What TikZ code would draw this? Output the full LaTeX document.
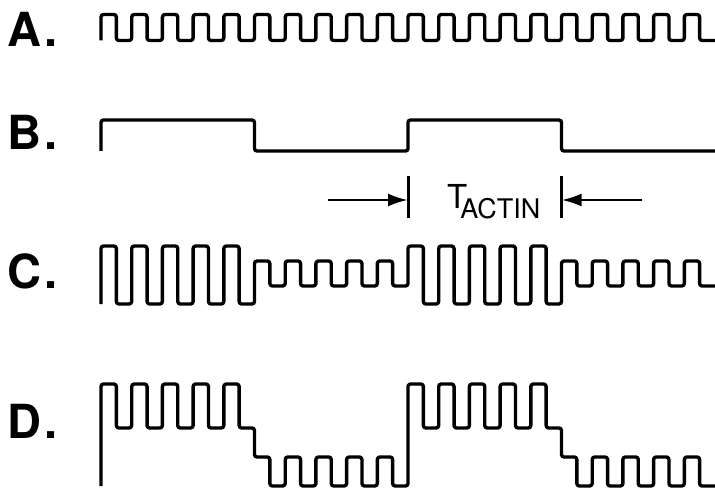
\documentclass[tikz,border=0pt]{standalone}
\usepackage{fontspec}
\setsansfont{TeX Gyre Heros}
\usepackage{tikz}
\usetikzlibrary{arrows.meta}
\newcommand{\wper}{30.7}
\tikzset{
  wave/.style={line width=3.4pt,line join=round,rounded corners=2.5pt,draw=black},
  rowlabel/.style={anchor=west,inner sep=0pt,font=\fontsize{47}{47}\selectfont\sffamily\bfseries},
  markbar/.style={line width=3pt},
  dimarrow/.style={-{Latex[length=20pt,width=13pt]},line width=2.8pt},
}

\begin{document}
\begin{tikzpicture}[x=1pt,y=-1pt]
  \useasboundingbox (0,0) rectangle (715,492);
  % row labels
  \node[rowlabel] (labA) at (7,29)    {A\kern3pt.};
  \node[rowlabel] (labB) at (7,132.5) {B\kern3pt.};
  \node[rowlabel] (labC) at (7,271.5) {C\kern3pt.};
  \node[rowlabel] (labD) at (7,421.5) {D\kern3pt.};
  % A: carrier
  \draw[wave] (101,40.5) foreach \k in {0,...,19} {
    -- ({101+\k*\wper},14.5) -- ({101+(\k+0.5)*\wper},14.5)
    -- ({101+(\k+0.5)*\wper},40.5) -- ({101+(\k+1)*\wper},40.5)};
  % B: slow gate
  \draw[wave] (101,151) -- (101,120) -- ({101+5*\wper},120) -- ({101+5*\wper},151)
    -- ({101+10*\wper},151) -- ({101+10*\wper},120) -- ({101+15*\wper},120)
    -- ({101+15*\wper},151) -- (715,151);
  % period marker
  \coordinate (barLtop) at ({101+10*\wper},176);
  \coordinate (barLbot) at ({101+10*\wper},218);
  \coordinate (barLmid) at ({101+10*\wper},200);
  \coordinate (barRtop) at ({101+15*\wper},176);
  \coordinate (barRbot) at ({101+15*\wper},218);
  \coordinate (barRmid) at ({101+15*\wper},200);
  \coordinate (tailL) at (328,200);
  \coordinate (tailR) at (642,200);
  \draw[markbar] (barLtop) -- (barLbot);
  \draw[markbar] (barRtop) -- (barRbot);
  \draw[dimarrow] (tailL) -- (barLmid);
  \draw[dimarrow] (tailR) -- (barRmid);
  \node[anchor=base west,inner sep=0pt,font=\sffamily] (tactin) at (447,208)
    {\fontsize{33}{33}\selectfont T\kern-7pt\raisebox{-10pt}{\fontsize{27}{27}\selectfont ACTIN}};
  % C: amplitude switched by B
  \draw[wave] (101,304)
    foreach \k in {0,...,4} {
      -- ({101+\k*\wper},246) -- ({101+(\k+0.5)*\wper},246)
      -- ({101+(\k+0.5)*\wper},304) -- ({101+(\k+1)*\wper},304)}
    foreach \k in {5,...,9} {
      -- ({101+\k*\wper},261) -- ({101+(\k+0.5)*\wper},261)
      -- ({101+(\k+0.5)*\wper},286) -- ({101+(\k+1)*\wper},286)}
    foreach \k in {10,...,14} {
      -- ({101+\k*\wper},246) -- ({101+(\k+0.5)*\wper},246)
      -- ({101+(\k+0.5)*\wper},304) -- ({101+(\k+1)*\wper},304)}
    foreach \k in {15,...,19} {
      -- ({101+\k*\wper},261) -- ({101+(\k+0.5)*\wper},261)
      -- ({101+(\k+0.5)*\wper},286) -- ({101+(\k+1)*\wper},286)};
  % D: level shifted by B
  \draw[wave] (101,486)
    foreach \k in {0,...,4} {
      -- ({101+\k*\wper},384) -- ({101+(\k+0.5)*\wper},384)
      -- ({101+(\k+0.5)*\wper},428) -- ({101+(\k+1)*\wper},428)}
    foreach \k in {5,...,9} {
      -- ({101+\k*\wper},457) -- ({101+(\k+0.5)*\wper},457)
      -- ({101+(\k+0.5)*\wper},486) -- ({101+(\k+1)*\wper},486)}
    foreach \k in {10,...,14} {
      -- ({101+\k*\wper},384) -- ({101+(\k+0.5)*\wper},384)
      -- ({101+(\k+0.5)*\wper},428) -- ({101+(\k+1)*\wper},428)}
    foreach \k in {15,...,19} {
      -- ({101+\k*\wper},457) -- ({101+(\k+0.5)*\wper},457)
      -- ({101+(\k+0.5)*\wper},486) -- ({101+(\k+1)*\wper},486)};
\end{tikzpicture}
\end{document}
